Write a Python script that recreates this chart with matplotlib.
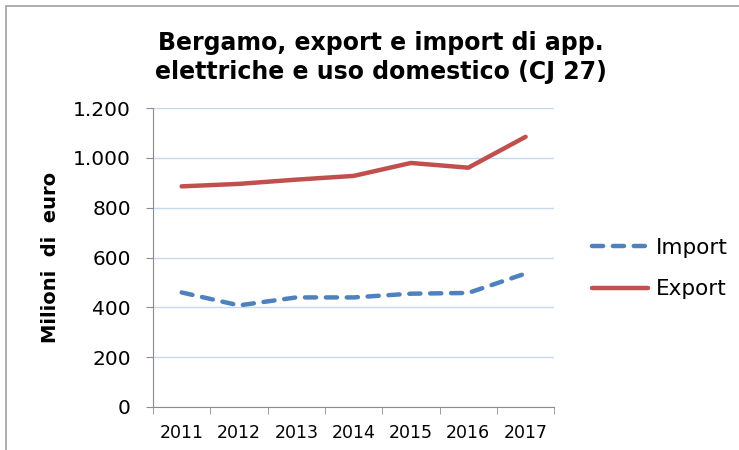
import numpy as np
import matplotlib.pyplot as plt
from matplotlib.patches import Rectangle

# Dati (milioni di euro)
anni = ['2011', '2012', '2013', '2014', '2015', '2016', '2017']
export_val = [886, 896, 913, 928, 980, 961, 1085]
import_val = [460, 408, 440, 440, 455, 458, 536]
y_ticks = [0, 200, 400, 600, 800, 1000, 1200]

fig = plt.figure(figsize=(7.39, 4.5), dpi=100)
ax = fig.add_axes([0.207, 0.0956, 0.543, 0.664])

# cornice del grafico
fig.patches.append(Rectangle((6 / 739, -0.1), 1.2, 1.1 - 6 / 450, transform=fig.transFigure,
                             fill=False, edgecolor='#a0a0a0', linewidth=1.2))

x = np.arange(len(anni))
ax.plot(x, import_val, color='#4f81bd', lw=3.2, ls=(0, (2.5, 2.2)),
        dash_capstyle='round', label='Import')
ax.plot(x, export_val, color='#c0504d', lw=3.2, solid_capstyle='round', label='Export')

ax.set_xlim(-0.5, len(anni) - 0.5)
ax.set_ylim(0, 1200)
ax.set_yticks(y_ticks)
ax.set_yticklabels([f'{v:,}'.replace(',', '.') for v in y_ticks])
ax.set_xticks(x)
ax.set_xticklabels(anni)
ax.set_xticks(np.arange(-0.5, len(anni)), minor=True)
ax.tick_params(axis='x', which='major', length=0, labelsize=12.5, pad=12)
ax.tick_params(axis='x', which='minor', length=5, color='#8c8c8c')
ax.tick_params(axis='y', length=5, color='#8c8c8c', labelsize=14.5, pad=11)

ax.grid(axis='y', color='#c6d9f1', lw=1)
ax.set_axisbelow(True)
for s in ['top', 'right']:
    ax.spines[s].set_visible(False)
for s in ['left', 'bottom']:
    ax.spines[s].set_color('#8c8c8c')

ax.set_ylabel('Milioni  di  euro', fontsize=14, fontweight='bold', labelpad=9)
fig.text(0.515, 0.872, 'Bergamo, export e import di app.\nelettriche e uso domestico (CJ 27)',
         ha='center', va='center', fontsize=17, fontweight='bold', linespacing=1.3)

ax.legend(loc='center left', bbox_to_anchor=(1.045, 0.463), frameon=False,
          fontsize=15.5, handlelength=2.6, handletextpad=0.4, labelspacing=1.0)

plt.savefig('out.png', dpi=100)
